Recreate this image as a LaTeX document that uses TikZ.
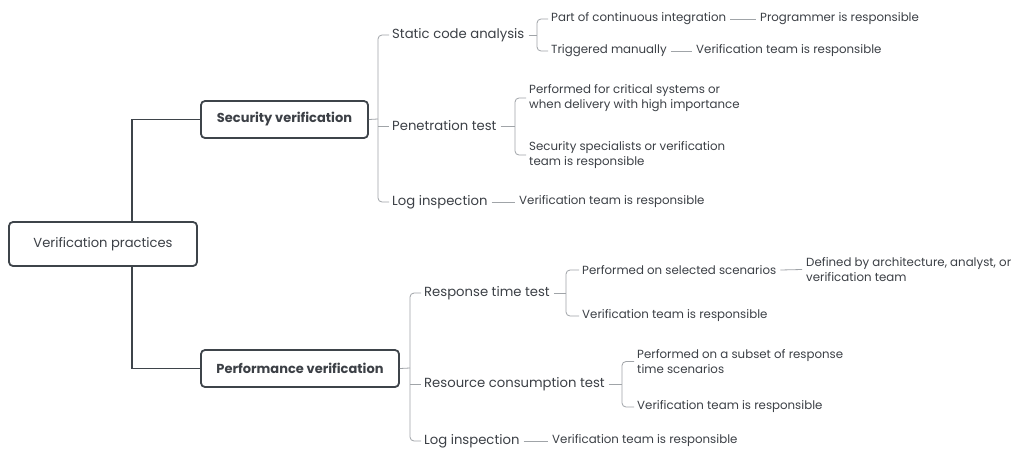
\documentclass[tikz,border=0pt]{standalone}
\usepackage{fontspec}
\setmainfont{Poppins}
\usepackage{tikz}
\usetikzlibrary{positioning, calc}
\definecolor{mmline}{RGB}{62,68,74}
\definecolor{mmtext}{RGB}{60,64,70}
\definecolor{mmthin}{RGB}{160,164,168}
\tikzset{
  rootbox/.style={rectangle, draw=mmline, fill=white, line width=1.8pt,
    rounded corners=4pt, minimum width=188pt, minimum height=44pt,
    font=\fontsize{13.1}{15}\selectfont, text=mmtext, inner sep=0pt},
  mainbox/.style={rectangle, draw=mmline, fill=white, line width=1.8pt,
    rounded corners=4pt, minimum height=37pt, inner sep=0pt,
    font=\fontsize{13}{15}\selectfont\bfseries, text=mmtext},
  subtopic/.style={anchor=west, inner sep=0pt,
    font=\fontsize{13.2}{15}\selectfont, text=mmtext},
  leaf/.style={anchor=west, inner sep=0pt, align=left,
    font=\fontsize{11.8}{15}\selectfont, text=mmtext},
  trunk/.style={line width=1.8pt, color=mmline},
  twig/.style={line width=0.8pt, color=mmthin, rounded corners=4pt}
}

\begin{document}
\begin{tikzpicture}[x=1pt, y=-1pt]
  \useasboundingbox (0,0) rectangle (1014,450);
  \fill[white] (0,0) rectangle (1014,450);

  % main topics
  \node[rootbox] (root) at (103,244) {Verification practices};
  \node[mainbox, minimum width=167pt] (sec) at (284.5,119.5) {Security verification};
  \node[mainbox, minimum width=198pt] (perf) at (300,368.5) {Performance verification};
  \draw[trunk] ([xshift=29pt]root.north) |- (sec.west);
  \draw[trunk] ([xshift=29pt]root.south) |- (perf.west);

  % security verification
  \coordinate (secbar) at (378,119);
  \node[subtopic] (sca) at (392,35) {Static code analysis};
  \node[subtopic] (pen) at (392,126) {Penetration test};
  \node[subtopic] (slog) at (392,202) {Log inspection};
  \draw[twig] (sec.east) -- (secbar);
  \draw[twig] ([xshift=-3pt]sca.west) -| (secbar) |- ([xshift=-3pt]slog.west);
  \draw[twig] (secbar |- pen.west) -- ([xshift=-3pt]pen.west);

  \coordinate (scabar) at (537,35);
  \node[leaf] (pci) at (551,19) {Part of continuous integration};
  \node[leaf] (trig) at (551,51) {Triggered manually};
  \node[leaf] (prog) at (760,19) {Programmer is responsible};
  \node[leaf] (trigres) at (696,51) {Verification team is responsible};
  \draw[twig] ([xshift=4pt]sca.east) -- (scabar);
  \draw[twig] ([xshift=-3pt]pci.west) -| (scabar) |- ([xshift=-3pt]trig.west);
  \draw[twig] ([xshift=4pt]pci.east) -- ([xshift=-4pt]prog.west);
  \draw[twig] ([xshift=4pt]trig.east) -- ([xshift=-4pt]trigres.west);

  \coordinate (penbar) at (515,126);
  \node[leaf] (crit) at (529,98) {Performed for critical systems or\\when delivery with high importance};
  \node[leaf] (spec) at (529,155) {Security specialists or verification\\team is responsible};
  \draw[twig] ([xshift=4pt]pen.east) -- (penbar);
  \draw[twig] ([xshift=-3pt]crit.west) -| (penbar) |- ([xshift=-3pt]spec.west);

  \node[leaf] (slogres) at (519,202) {Verification team is responsible};
  \draw[twig] ([xshift=4pt]slog.east) -- ([xshift=-4pt]slogres.west);

  % performance verification
  \coordinate (perfbar) at (410,368);
  \node[subtopic] (rtt) at (424,293) {Response time test};
  \node[subtopic] (rct) at (424,384) {Resource consumption test};
  \node[subtopic] (plog) at (424,441) {Log inspection};
  \draw[twig] (perf.east) -- (perfbar);
  \draw[twig] ([xshift=-3pt]rtt.west) -| (perfbar) |- ([xshift=-3pt]plog.west);
  \draw[twig] (perfbar |- rct.west) -- ([xshift=-3pt]rct.west);

  \coordinate (rttbar) at (566,293);
  \node[leaf] (sel) at (582,270) {Performed on selected scenarios};
  \node[leaf] (rttres) at (582,316) {Verification team is responsible};
  \node[leaf] (arch) at (806,269.5) {Defined by architecture, analyst, or\\verification team};
  \draw[twig] ([xshift=4pt]rtt.east) -- (rttbar);
  \draw[twig] ([xshift=-3pt]sel.west) -| (rttbar) |- ([xshift=-3pt]rttres.west);
  \draw[twig] ([xshift=4pt]sel.east) -- ([xshift=-4pt]arch.west);

  \coordinate (rctbar) at (622,384);
  \node[leaf] (subset) at (637,361.5) {Performed on a subset of response\\time scenarios};
  \node[leaf] (rctres) at (637,407) {Verification team is responsible};
  \draw[twig] ([xshift=4pt]rct.east) -- (rctbar);
  \draw[twig] ([xshift=-3pt]subset.west) -| (rctbar) |- ([xshift=-3pt]rctres.west);

  \node[leaf] (plogres) at (552,441) {Verification team is responsible};
  \draw[twig] ([xshift=4pt]plog.east) -- ([xshift=-4pt]plogres.west);
\end{tikzpicture}
\end{document}
